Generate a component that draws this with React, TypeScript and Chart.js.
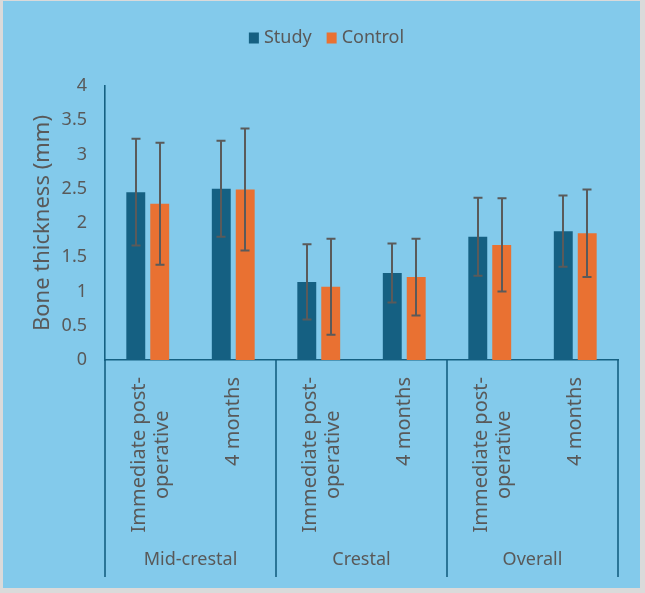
import React, { useEffect, useRef } from "react";
import { Chart, registerables } from "chart.js";

Chart.register(...registerables);

// Time points (x categories), two lines where the label wraps
const categories: string[][] = [
  ["Immediate post-", "operative"],
  ["4 months"],
  ["Immediate post-", "operative"],
  ["4 months"],
  ["Immediate post-", "operative"],
  ["4 months"],
];
// Region groups, each spanning two time points
const groups = ["Mid-crestal", "Crestal", "Overall"];
const groupSize = 2;

// Mean bone thickness (mm) and standard deviation
const studyMean = [2.45, 2.5, 1.14, 1.27, 1.8, 1.88];
const studySD = [0.78, 0.7, 0.55, 0.43, 0.57, 0.52];
const controlMean = [2.28, 2.49, 1.07, 1.21, 1.68, 1.85];
const controlSD = [0.89, 0.89, 0.7, 0.56, 0.68, 0.64];

const yMin = 0;
const yMax = 4;
const yStep = 0.5;

const FONT = "'Noto Sans', 'DejaVu Sans', sans-serif";
const TEXT = "#595959";
const AXIS = "#156082";
const STUDY = "#156082";
const CONTROL = "#E97132";
const W = 645;
const H = 593;

const sdByDataset = [studySD, controlSD];

// Vertical whiskers with caps at mean ± SD
const errorBars = {
  id: "errorBars",
  afterDatasetsDraw(chart: any) {
    const { ctx } = chart;
    const y = chart.scales.y;
    ctx.save();
    ctx.strokeStyle = "#5a5a5a";
    ctx.lineWidth = 2;
    chart.data.datasets.forEach((ds: any, di: number) => {
      const sd = sdByDataset[di];
      chart.getDatasetMeta(di).data.forEach((bar: any, i: number) => {
        const v = ds.data[i];
        const top = y.getPixelForValue(v + sd[i]);
        const bot = y.getPixelForValue(v - sd[i]);
        const x = Math.round(bar.x);
        ctx.beginPath();
        ctx.moveTo(x, top);
        ctx.lineTo(x, bot);
        ctx.moveTo(x - 4.5, top);
        ctx.lineTo(x + 4.5, top);
        ctx.moveTo(x - 4.5, bot);
        ctx.lineTo(x + 4.5, bot);
        ctx.stroke();
      });
    });
    ctx.restore();
  },
};

// Legend row above the plot: square swatch followed by the series name
const seriesLegend = {
  id: "seriesLegend",
  afterDraw(chart: any) {
    const { ctx } = chart;
    const box = 10;
    const gapText = 5;
    const gapItem = 15;
    const cy = 38;
    ctx.save();
    ctx.font = `18px ${FONT}`;
    const items = chart.data.datasets.map((ds: any) => ({
      label: ds.label as string,
      color: ds.backgroundColor as string,
      w: box + gapText + ctx.measureText(ds.label).width,
    }));
    const total =
      items.reduce((s: number, it: any) => s + it.w, 0) + gapItem * (items.length - 1);
    let x = chart.width / 2 + 4 - total / 2;
    ctx.textBaseline = "middle";
    ctx.textAlign = "left";
    items.forEach((it: any) => {
      ctx.fillStyle = it.color;
      ctx.fillRect(x, cy - 5.5, box, 11);
      ctx.fillStyle = TEXT;
      ctx.fillText(it.label, x + box + gapText, cy);
      x += it.w + gapItem;
    });
    ctx.restore();
  },
};

// Two-level category axis: rotated time labels, group names and divider lines
const groupedAxis = {
  id: "groupedAxis",
  afterDraw(chart: any) {
    const { ctx, chartArea } = chart;
    const x = chart.scales.x;
    const n = categories.length;
    const bottom = chartArea.bottom;
    const lineEnd = 577;

    const bounds: number[] = [chartArea.left];
    for (let g = 1; g < groups.length; g++) {
      const a = x.getPixelForValue(g * groupSize - 1);
      const b = x.getPixelForValue(g * groupSize);
      bounds.push((a + b) / 2);
    }
    bounds.push(chartArea.right);

    ctx.save();
    ctx.strokeStyle = AXIS;
    ctx.lineWidth = 1.6;
    bounds.forEach((bx) => {
      ctx.beginPath();
      ctx.moveTo(bx, bottom);
      ctx.lineTo(bx, lineEnd);
      ctx.stroke();
    });

    ctx.fillStyle = TEXT;
    ctx.font = `20px ${FONT}`;
    const lh = 23;
    for (let i = 0; i < n; i++) {
      const lines = categories[i];
      const cx = x.getPixelForValue(i) + (lines.length > 1 ? 3 : 0);
      const maxW = Math.max(...lines.map((l) => ctx.measureText(l).width));
      ctx.save();
      ctx.translate(cx, bottom + 17);
      ctx.rotate(-Math.PI / 2);
      ctx.textAlign = "center";
      ctx.textBaseline = "middle";
      lines.forEach((l, k) => {
        ctx.fillText(l, -maxW / 2, (k - (lines.length - 1) / 2) * lh);
      });
      ctx.restore();
    }

    ctx.font = `18px ${FONT}`;
    ctx.textAlign = "center";
    ctx.textBaseline = "middle";
    groups.forEach((g, gi) => {
      ctx.fillText(g, (bounds[gi] + bounds[gi + 1]) / 2, 560);
    });
    ctx.restore();
  },
};

export default function App() {
  const ref = useRef<HTMLCanvasElement | null>(null);

  useEffect(() => {
    if (!ref.current) return;
    const chart = new Chart(ref.current, {
      type: "bar",
      data: {
        labels: categories.map((c) => c.join(" ")),
        datasets: [
          {
            label: "Study",
            data: studyMean,
            backgroundColor: STUDY,
            categoryPercentage: 0.56,
            barPercentage: 0.79,
          },
          {
            label: "Control",
            data: controlMean,
            backgroundColor: CONTROL,
            categoryPercentage: 0.56,
            barPercentage: 0.79,
          },
        ],
      },
      options: {
        responsive: false,
        animation: false,
        layout: {
          autoPadding: false,
          padding: { top: 86, right: 27, bottom: 0, left: 0 },
        },
        plugins: {
          legend: { display: false },
          tooltip: { enabled: false },
        },
        scales: {
          x: {
            grid: { display: false, drawTicks: false },
            border: { display: true, color: AXIS, width: 1.6 },
            ticks: { display: false },
            afterFit: (scale: any) => {
              scale.height = H - 360;
            },
          },
          y: {
            min: yMin,
            max: yMax,
            grid: { display: false, drawTicks: false },
            border: { display: true, color: AXIS, width: 1.6 },
            ticks: {
              stepSize: yStep,
              color: TEXT,
              padding: 18,
              font: { family: FONT, size: 18 },
              callback: (v: any) => String(v),
            },
            title: {
              display: true,
              text: "Bone thickness (mm)",
              color: TEXT,
              font: { family: FONT, size: 22 },
              padding: { top: 30, bottom: 0 },
            },
            afterFit: (scale: any) => {
              scale.width = 105;
            },
          },
        },
      },
      plugins: [errorBars, groupedAxis, seriesLegend],
    });
    return () => chart.destroy();
  }, []);

  return (
    <div
      style={{
        position: "absolute",
        left: 0,
        top: 0,
        width: W,
        height: H,
        background: "#dadada",
      }}
    >
      <div
        style={{
          position: "absolute",
          left: 3,
          top: 1,
          width: 637,
          height: 587,
          background: "#83CAEB",
        }}
      />
      <canvas
        ref={ref}
        width={W}
        height={H}
        style={{ position: "absolute", left: 0, top: 0, width: W, height: H }}
      />
    </div>
  );
}
